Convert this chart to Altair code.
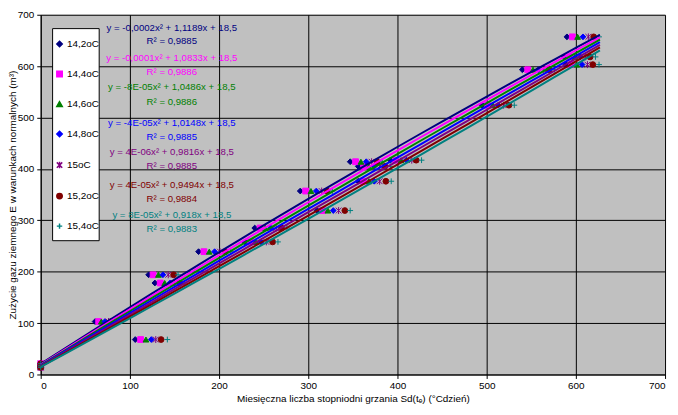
import altair as alt
import pandas as pd

# ---- data ----
series = ["14,2oC", "14,4oC", "14,6oC", "14,8oC", "15oC", "15,2oC", "15,4oC"]
colors = ["#000080", "#FF00FF", "#008000", "#0000FF", "#800080", "#800000", "#008080"]
shapes = ["diamond", "square", "triangle-up", "diamond",
          "M-1,-1L1,1M-1,1L1,-1M0,-1.2L0,1.2", "circle", "M-1,0L1,0M0,-1L0,1"]

# monthly gas use (m3), same for every series
gas_use = [14, 17, 21, 657, 618, 603, 593, 524, 417, 414, 405, 376, 357, 319, 285, 258, 239, 194, 178, 103, 68]
# degree-days per month for each base temperature
x_142 = [0, 0, 0, 590, 587, 589, 540, 495, 392, 347, 356, 356, 291, 310, 240, 229, 177, 121, 128, 61, 106]
x_144 = [0, 0, 0, 596, 593, 595, 546, 501, 398, 353, 362, 362, 297, 316, 246, 235, 183, 126, 134, 65, 112]
x_146 = [0, 0, 0, 602, 599, 601, 552, 507, 404, 359, 368, 368, 303, 322, 252, 241, 189, 132, 139, 68, 118]
x_148 = [0, 0, 0, 608, 605, 607, 558, 513, 410, 365, 374, 374, 309, 328, 258, 247, 195, 137, 145, 72, 124]
x_150 = [0, 0, 0, 614, 611, 613, 564, 519, 416, 371, 380, 380, 315, 334, 264, 253, 201, 143, 150, 76, 129]
x_152 = [0, 0, 0, 620, 616, 619, 570, 525, 421, 377, 386, 387, 321, 341, 270, 260, 207, 149, 156, 79, 135]
x_154 = [0, 0, 0, 626, 622, 626, 576, 531, 427, 383, 392, 393, 327, 347, 276, 266, 213, 154, 161, 83, 142]
x_all = [x_142, x_144, x_146, x_148, x_150, x_152, x_154]

eq_text = ["y = -0,0002x² + 1,1189x + 18,5",
           "y = -0,0001x² + 1,0833x + 18,5",
           "y = -8E-05x² + 1,0486x + 18,5",
           "y = -4E-05x² + 1,0148x + 18,5",
           "y = 4E-06x² + 0,9816x + 18,5",
           "y = 4E-05x² + 0,9494x + 18,5",
           "y = 8E-05x² + 0,918x + 18,5"]
r2_text = ["R² = 0,9885", "R² = 0,9886", "R² = 0,9886", "R² = 0,9885",
           "R² = 0,9885", "R² = 0,9884", "R² = 0,9883"]

# label anchor positions (chart coordinates, as placed in the original)
label_x = 147
eq_y = [674, 615, 559, 490, 433, 368, 311]
r2_y = [649, 588, 531, 463, 406, 342, 284]

# ---- tables ----
rows = []
for s, xs in zip(series, x_all):
    for xv, yv in zip(xs, gas_use):
        rows.append({"series": s, "x": xv, "y": yv})
df = pd.DataFrame(rows)

lab_rows = []
for s, t, y in zip(series, eq_text, eq_y):
    lab_rows.append({"series": s, "text": t, "x": label_x, "y": y})
for s, t, y in zip(series, r2_text, r2_y):
    lab_rows.append({"series": s, "text": t, "x": label_x, "y": y})
lab = pd.DataFrame(lab_rows)

FONT = "Liberation Sans"
ticks = list(range(0, 701, 100))

color_scale = alt.Scale(domain=series, range=colors)
shape_scale = alt.Scale(domain=series, range=shapes)

x_enc = alt.X("x:Q", scale=alt.Scale(domain=[0, 700], nice=False),
              axis=alt.Axis(values=ticks, title="Miesięczna liczba stopniodni grzania Sd(tₑ) (°Cdzień)"))
y_enc = alt.Y("y:Q", scale=alt.Scale(domain=[0, 700], nice=False),
              axis=alt.Axis(values=ticks, title="Zużycie gazu ziemnego E w warunkach normalnych (m³)"))

legend = alt.Legend(title=None, orient="none", legendX=11, legendY=21.5,
                    padding=3, rowPadding=18.3, labelFontSize=10, labelFont=FONT,
                    symbolSize=30, labelOffset=2.5, labelColor="black")

# white legend box
box = alt.Chart(pd.DataFrame({"k": [0]})).mark_rect(
    fill="white", stroke="black", strokeWidth=1
).encode(x=alt.value(12), x2=alt.value(59), y=alt.value(14), y2=alt.value(228))

points = alt.Chart(df).mark_point(filled=True, size=34, strokeWidth=1, opacity=1).encode(
    x=x_enc, y=y_enc,
    color=alt.Color("series:N", scale=color_scale, legend=legend),
    stroke=alt.Stroke("series:N", scale=color_scale, legend=legend),
    shape=alt.Shape("series:N", scale=shape_scale, legend=legend),
)

lines = alt.Chart(df).transform_regression(
    "x", "y", groupby=["series"], method="poly", order=2, extent=[0, 627]
).mark_line(strokeWidth=2).encode(
    x=x_enc, y=y_enc,
    color=alt.Color("series:N", scale=color_scale, legend=None),
)

labels = alt.Chart(lab).mark_text(font=FONT, fontSize=9.7, align="center", baseline="middle").encode(
    x=x_enc, y=y_enc, text="text:N",
    color=alt.Color("series:N", scale=color_scale, legend=None),
)

chart = alt.layer(box, points, lines, labels).properties(
    width=630, height=363,
    padding={"left": 33, "top": 5, "right": 5, "bottom": 31},
    autosize=alt.AutoSizeParams(type="none"),
    background="white",
).configure_view(
    fill="#C0C0C0", stroke=None
).configure_axis(
    grid=True, gridColor="black", gridOpacity=1, gridWidth=1,
    domainColor="black", domainWidth=1, tickColor="black", tickSize=4,
    labelFont=FONT, labelFontSize=10, labelColor="black",
    titleFont=FONT, titleFontSize=10, titleFontWeight="normal", titleColor="black",
).configure_axisX(titlePadding=3, labelPadding=2).configure_axisY(titlePadding=0, labelPadding=3)

chart.save("out.html", embed_options={"renderer": "svg", "actions": False})
